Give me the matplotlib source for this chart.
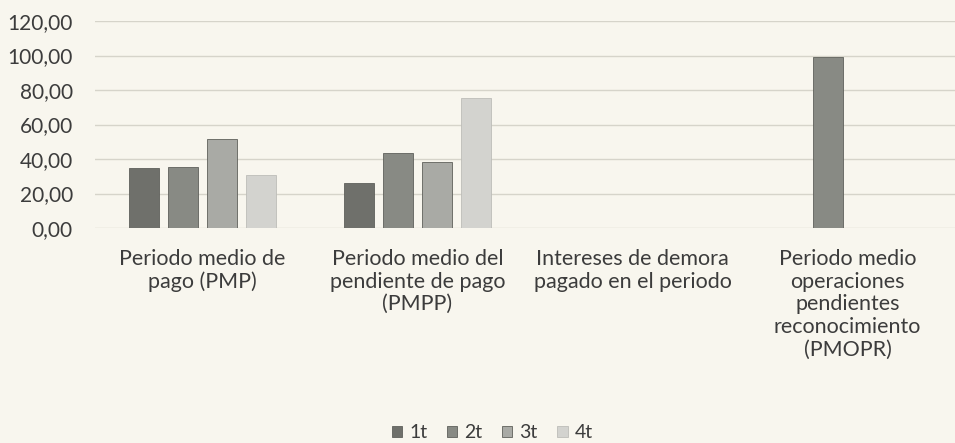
import numpy as np
import matplotlib.pyplot as plt

categories = ["Periodo medio de\npago (PMP)",
              "Periodo medio del\npendiente de pago\n(PMPP)",
              "Intereses de demora\npagado en el periodo",
              "Periodo medio\noperaciones\npendientes\nreconocimiento\n(PMOPR)"]
series = ["1t", "2t", "3t", "4t"]
v1t = [35.0, 26.1, 0, 0]
v2t = [35.6, 43.3, 0, 99.0]
v3t = [51.4, 38.4, 0, 0]
v4t = [30.9, 75.5, 0, 0]
yticks = [0, 20, 40, 60, 80, 100, 120]

colors = ["#6f706b", "#888a84", "#a9aaa5", "#d3d3cf"]
bg = "#f8f6ee"

plt.rcParams['font.family'] = ['Lato', 'DejaVu Sans']

fig = plt.figure(figsize=(9.55, 4.43), dpi=100, facecolor=bg)
ax = fig.add_axes([95/955, 215/443, 860/955, 207/443])
ax.set_facecolor(bg)

x = np.arange(len(categories))
w = 0.14
step = 0.182
for i, (name, vals) in enumerate(zip(series, [v1t, v2t, v3t, v4t])):
    ax.bar(x + (i - 1.5)*step, vals, width=w, color=colors[i], label=name,
           edgecolor="#5f605b" if i < 3 else "#bdbdb8", linewidth=0.6, zorder=3)

ax.set_xlim(-0.5, 3.5)
ax.set_ylim(0, 120)
ax.set_yticks(yticks)
ax.set_yticklabels([f"{v:.2f}".replace(".", ",") for v in yticks], fontsize=15, color="#3c3c3c")
ax.yaxis.grid(True, color="#d6d4ca", linewidth=1, zorder=0)
ax.set_xticks(x)
ax.set_xticklabels(categories, fontsize=15.5, color="#3c3c3c", linespacing=1.17, va="top")
ax.tick_params(axis="both", length=0)
ax.tick_params(axis="y", pad=16)
ax.tick_params(axis="x", pad=15)
for s in ax.spines.values():
    s.set_visible(False)

leg = fig.legend(loc="center", bbox_to_anchor=(492/955, 1 - 433/443), ncol=4,
                 frameon=False, fontsize=14, handlelength=0.55, handleheight=0.55,
                 handletextpad=0.35, columnspacing=1.0, labelcolor="#3c3c3c")

fig.savefig("out.png", dpi=100, facecolor=bg)
